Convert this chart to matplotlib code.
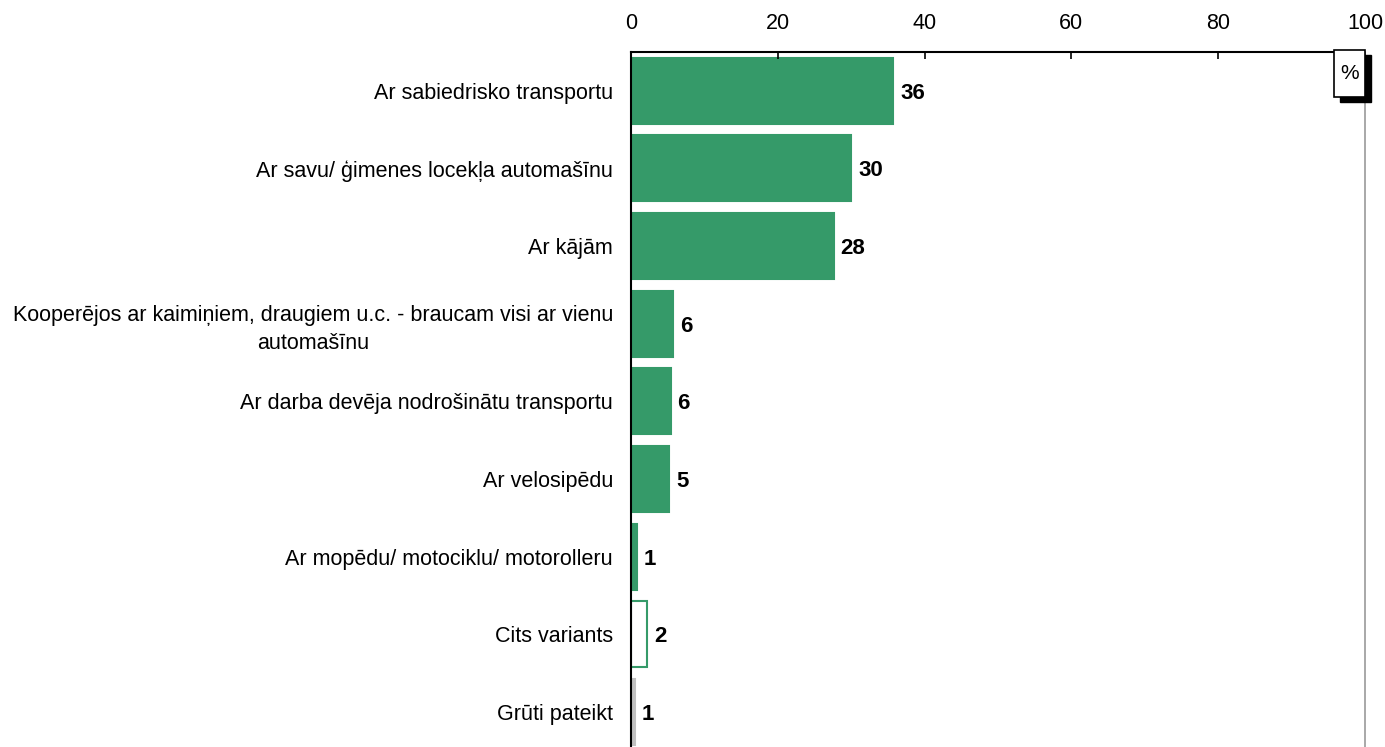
import matplotlib.pyplot as plt
from matplotlib.patches import Rectangle

plt.rcParams['font.family'] = ['Liberation Sans', 'DejaVu Sans']

categories = [
    "Ar sabiedrisko transportu",
    "Ar savu/ ģimenes locekļa automašīnu",
    "Ar kājām",
    "Kooperējos ar kaimiņiem, draugiem u.c. - braucam visi ar vienu\nautomašīnu",
    "Ar darba devēja nodrošinātu transportu",
    "Ar velosipēdu",
    "Ar mopēdu/ motociklu/ motorolleru",
    "Cits variants",
    "Grūti pateikt",
]
values = [35.7, 30.0, 27.6, 5.7, 5.4, 5.2, 0.8, 2.2, 0.5]
value_labels = ["36", "30", "28", "6", "6", "5", "1", "2", "1"]
x_ticks = [0, 20, 40, 60, 80, 100]

green = "#359a69"
face_colors = [green] * 7 + ["white", "#c0c0c0"]
edge_colors = [green] * 7 + [green, "#c0c0c0"]

fig = plt.figure(figsize=(13.85, 7.47), dpi=100)
ax = fig.add_axes([631 / 1385, 0, (1365 - 631) / 1385, 1 - 52 / 747])

y = list(range(len(categories)))
ax.barh(y, values, height=0.85, color=face_colors, edgecolor=edge_colors, linewidth=1.5)

for yi, v, lab in zip(y, values, value_labels):
    ax.text(v + 0.95, yi, lab, va="center_baseline", ha="left", fontsize=16, fontweight="bold")

ax.set_xlim(0, 100)
ax.set_ylim(8.45, -0.5)
ax.set_yticks(y)
ax.set_yticklabels(categories, fontsize=15.5, multialignment="center", linespacing=1.4)
ax.tick_params(axis="y", length=0, pad=13)
ax.xaxis.tick_top()
ax.set_xticks(x_ticks)
ax.tick_params(axis="x", direction="in", length=5, width=1.2, labelsize=15.5, pad=13)
for lbl in ax.get_xticklabels():
    lbl.set_va("bottom")

ax.spines["bottom"].set_visible(False)
ax.spines["left"].set_linewidth(1.5)
ax.spines["top"].set_linewidth(1.5)
ax.spines["top"].set_bounds(0, 96)
ax.spines["right"].set_color("#999999")
ax.spines["right"].set_linewidth(1.2)

# "%" box with shadow at the top right
bx, by, bw, bh = 1334 / 1385, 1 - 97 / 747, 31 / 1385, 47 / 747
fig.patches.append(Rectangle((bx + 6 / 1385, by - 5 / 747), bw, bh, transform=fig.transFigure,
                             facecolor="black", edgecolor="black", zorder=5))
fig.patches.append(Rectangle((bx, by), bw, bh, transform=fig.transFigure,
                             facecolor="white", edgecolor="black", linewidth=1.2, zorder=6))
fig.text(bx + bw / 2, by + bh / 2, "%", ha="center", va="center", fontsize=15, zorder=7)

fig.savefig("out.png", dpi=100)
